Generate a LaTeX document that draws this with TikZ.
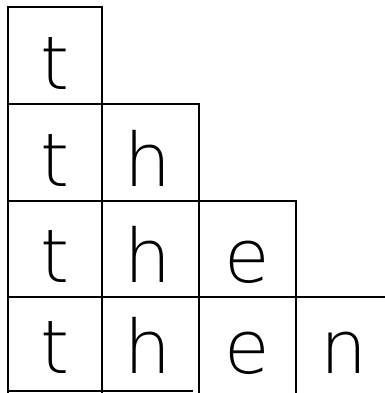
\documentclass[tikz,border=0pt]{standalone}
\usepackage{fontspec}
\newfontfamily\letterfont{DejaVu Sans ExtraLight}
\begin{document}
\begin{tikzpicture}[x=1pt,y=1pt,
  gridline/.style={line width=2.7pt,line cap=rect},
  letter/.style={anchor=base,inner sep=0pt,text depth=0pt,text height=56pt,font=\letterfont\fontsize{74}{74}\selectfont}]
\useasboundingbox (0,0) rectangle (384,393);
% row 1
\draw[gridline] (8,386) rectangle (102,289);
% row 2
\draw[gridline] (8,289) rectangle (102,192);
\draw[gridline] (102,289) rectangle (199,192);
% row 3
\draw[gridline] (8,192) rectangle (102,96);
\draw[gridline] (102,192) rectangle (199,96);
\draw[gridline] (199,192) rectangle (296,96);
% row 4
\draw[gridline] (8,96) -- (384,96);
\draw[gridline] (8,96) -- (8,0);
\draw[gridline] (102,96) -- (102,0);
\draw[gridline] (199,96) -- (199,0);
\draw[gridline] (296,96) -- (296,0);
\draw[gridline] (8,2) -- (192,2);
% letters
\node[letter] (t1) at (55,303) {t};
\node[letter] (t2) at (55,206) {t};
\node[letter] (h2) at (148,206) {h};
\node[letter] (t3) at (55,110) {t};
\node[letter] (h3) at (148,110) {h};
\node[letter] (e3) at (247,110) {e};
\node[letter] (t4) at (55,19) {t};
\node[letter] (h4) at (148,19) {h};
\node[letter] (e4) at (247,19) {e};
\node[letter] (n4) at (344,19) {n};
\end{tikzpicture}
\end{document}
